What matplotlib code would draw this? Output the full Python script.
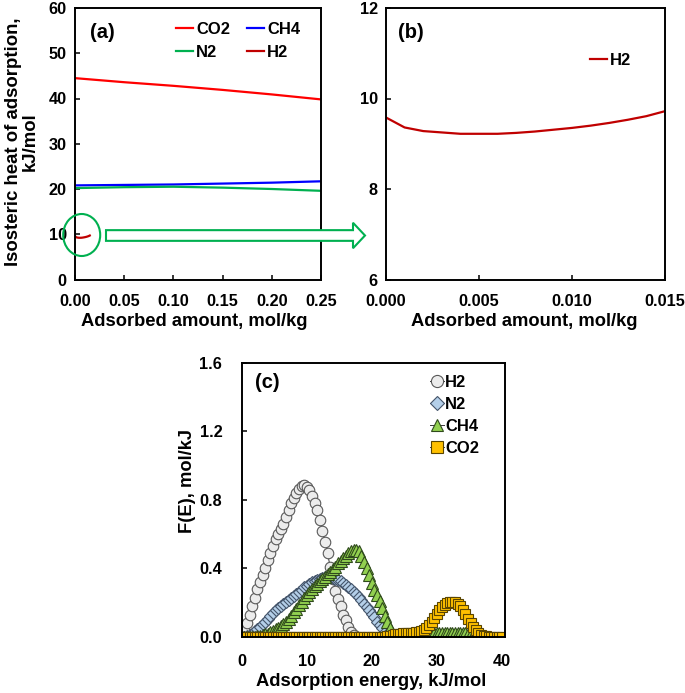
import numpy as np
import matplotlib
matplotlib.use("Agg")
import matplotlib.pyplot as plt
from matplotlib.patches import Ellipse, FancyArrow

plt.rcParams['font.family'] = ['Liberation Sans', 'DejaVu Sans']
plt.rcParams['font.weight'] = 'bold'
plt.rcParams['font.size'] = 11.7

# ---------- Panel (a): isosteric heat vs loading ----------
q_a = [0.0, 0.05, 0.10, 0.15, 0.20, 0.25]
co2_a = [44.5, 43.6, 42.8, 41.9, 40.9, 39.8]
ch4_a = [20.8, 20.9, 21.0, 21.2, 21.4, 21.7]
n2_a = [20.2, 20.4, 20.5, 20.3, 20.0, 19.6]

# ---------- Panel (b): H2 isosteric heat ----------
q_h2 = [0.000, 0.001, 0.002, 0.003, 0.004, 0.005, 0.006, 0.007, 0.008,
        0.009, 0.010, 0.011, 0.012, 0.013, 0.014, 0.015]
h2_q = [9.58, 9.36, 9.28, 9.25, 9.22, 9.22, 9.22, 9.24, 9.27,
        9.31, 9.35, 9.40, 9.46, 9.53, 9.61, 9.72]

# ---------- Panel (c): adsorption energy distributions ----------
energy = [0.0, 0.4, 0.8, 1.2, 1.6, 2.0, 2.4, 2.8, 3.2, 3.6,
          4.0, 4.4, 4.8, 5.2, 5.6, 6.0, 6.4, 6.8, 7.2, 7.6,
          8.0, 8.4, 8.8, 9.2, 9.6, 10.0, 10.4, 10.8, 11.2, 11.6,
          12.0, 12.4, 12.8, 13.2, 13.6, 14.0, 14.4, 14.8, 15.2, 15.6,
          16.0, 16.4, 16.8, 17.2, 17.6, 18.0, 18.4, 18.8, 19.2, 19.6,
          20.0, 20.4, 20.8, 21.2, 21.6, 22.0, 22.4, 22.8, 23.2, 23.6,
          24.0, 24.4, 24.8, 25.2, 25.6, 26.0, 26.4, 26.8, 27.2, 27.6,
          28.0, 28.4, 28.8, 29.2, 29.6, 30.0, 30.4, 30.8, 31.2, 31.6,
          32.0, 32.4, 32.8, 33.2, 33.6, 34.0, 34.4, 34.8, 35.2, 35.6,
          36.0, 36.4, 36.8, 37.2, 37.6, 38.0, 38.4, 38.8, 39.2, 39.6,
          40.0]

fe_h2 = [0.01, 0.04, 0.08, 0.13, 0.18, 0.23, 0.28, 0.32, 0.36, 0.40,
         0.45, 0.49, 0.53, 0.57, 0.60, 0.63, 0.66, 0.70, 0.74, 0.78,
         0.81, 0.84, 0.865, 0.88, 0.885, 0.875, 0.855, 0.82, 0.78, 0.74,
         0.68, 0.62, 0.555, 0.49, 0.41, 0.34, 0.27, 0.22, 0.18, 0.13,
         0.10, 0.06, 0.03, 0.01, 0.0]

fe_n2 = [0.0, 0.0, 0.005, 0.01, 0.02, 0.035, 0.045, 0.06, 0.075, 0.09,
         0.105, 0.12, 0.14, 0.155, 0.17, 0.18, 0.19, 0.205, 0.215, 0.23,
         0.24, 0.25, 0.265, 0.275, 0.29, 0.30, 0.31, 0.32, 0.325, 0.335,
         0.34, 0.345, 0.35, 0.35, 0.35, 0.345, 0.34, 0.335, 0.325, 0.315,
         0.305, 0.29, 0.28, 0.265, 0.25, 0.235, 0.215, 0.195, 0.175, 0.155,
         0.135, 0.115, 0.09, 0.07, 0.05, 0.03, 0.015, 0.005, 0.0]

fe_ch4 = [0.0, 0.0, 0.0, 0.0, 0.0, 0.0, 0.003, 0.006, 0.01, 0.015,
          0.02, 0.028, 0.036, 0.045, 0.055, 0.065, 0.078, 0.09, 0.105, 0.125,
          0.145, 0.165, 0.185, 0.205, 0.225, 0.245, 0.265, 0.28, 0.295, 0.31,
          0.325, 0.34, 0.35, 0.365, 0.38, 0.395, 0.41, 0.43, 0.445, 0.46,
          0.475, 0.49, 0.50, 0.51, 0.51, 0.50, 0.475, 0.44, 0.40, 0.36,
          0.315, 0.275, 0.245, 0.21, 0.17, 0.125, 0.085, 0.05, 0.02, 0.005,
          0.0, 0.002, 0.004, 0.006, 0.008, 0.01, 0.012, 0.014, 0.016, 0.018,
          0.02, 0.022, 0.024, 0.025, 0.025, 0.025, 0.025, 0.025, 0.025, 0.025,
          0.025, 0.025, 0.025, 0.025, 0.025, 0.024, 0.022, 0.02, 0.016, 0.012,
          0.008, 0.004, 0.0]

fe_co2 = [0.0, 0.0, 0.0, 0.0, 0.0, 0.0, 0.0, 0.0, 0.0, 0.0,
          0.0, 0.0, 0.0, 0.0, 0.0, 0.0, 0.0, 0.0, 0.0, 0.0,
          0.0, 0.0, 0.0, 0.0, 0.0, 0.0, 0.0, 0.0, 0.0, 0.0,
          0.0, 0.0, 0.0, 0.0, 0.0, 0.0, 0.0, 0.0, 0.0, 0.0,
          0.0, 0.0, 0.0, 0.0, 0.0, 0.0, 0.0, 0.0, 0.0, 0.0,
          0.0, 0.0, 0.0, 0.0, 0.0, 0.0, 0.004, 0.008, 0.012, 0.015,
          0.018, 0.02, 0.021, 0.022, 0.023, 0.024, 0.025, 0.027, 0.03, 0.035,
          0.043, 0.055, 0.07, 0.09, 0.112, 0.135, 0.155, 0.175, 0.188, 0.197,
          0.203, 0.205, 0.203, 0.195, 0.18, 0.16, 0.135, 0.107, 0.08, 0.057,
          0.04, 0.025, 0.014, 0.008, 0.004, 0.002, 0.001, 0.0, 0.0, 0.0,
          0.0]

W, H = 685, 693
fig = plt.figure(figsize=(W / 100, H / 100), dpi=100)

def fbox(l, t, r, b):
    return [l / W, 1 - b / H, (r - l) / W, (b - t) / H]

def style(ax, xpad, ypad):
    ax.tick_params(direction='in', length=3.5, width=1.1, labelsize=11.7)
    ax.tick_params(axis='x', pad=xpad)
    ax.tick_params(axis='y', pad=ypad)
    for s in ax.spines.values():
        s.set_linewidth(1.4)
    for lab in ax.get_xticklabels() + ax.get_yticklabels():
        lab.set_fontweight('bold')

RED = '#ff0000'
DRED = '#c00000'
BLUE = '#0000ff'
GREEN = '#00b050'
LAB = 13.2
LEG = {'weight': 'bold', 'size': 11.9}

# Panel (a)
ax1 = fig.add_axes(fbox(75, 8, 321, 279.5))
ax1.plot(q_a, co2_a, color=RED, lw=1.6, label='CO2')
ax1.plot(q_a, ch4_a, color=BLUE, lw=1.6, label='CH4')
ax1.plot(q_a, n2_a, color=GREEN, lw=1.6, label='N2')
ax1.plot(q_h2, h2_q, color=DRED, lw=1.6, label='H2')
ax1.set_xlim(0, 0.25)
ax1.set_ylim(0, 60)
ax1.set_xticks([0, 0.05, 0.10, 0.15, 0.20, 0.25])
ax1.set_xticklabels(['0.00', '0.05', '0.10', '0.15', '0.20', '0.25'])
ax1.set_yticks([0, 10, 20, 30, 40, 50, 60])
ax1.set_xlabel('Adsorbed amount, mol/kg', fontweight='bold', fontsize=LAB)
ax1.xaxis.set_label_coords(0.484, -0.123)
ax1.set_ylabel('Isosteric heat of adsorption,\nkJ/mol', fontweight='bold',
               fontsize=13.4, linespacing=1.0)
ax1.yaxis.set_label_coords(-0.146, 0.506)
ax1.text(0.06, 0.91, '(a)', transform=ax1.transAxes, fontweight='bold',
         fontsize=14.5, va='center')
h, l = ax1.get_legend_handles_labels()
ax1.legend([h[0], h[2], h[1], h[3]], [l[0], l[2], l[1], l[3]], ncol=2,
           loc='upper left', bbox_to_anchor=(0.412, 0.95), frameon=False,
           borderpad=0, borderaxespad=0,
           handlelength=1.03, handletextpad=0.18, columnspacing=1.03,
           labelspacing=0.5, prop=LEG)
style(ax1, 10.5, 6)

# Panel (b)
ax2 = fig.add_axes(fbox(386, 8, 665, 279.5))
ax2.plot(q_h2, h2_q, color=DRED, lw=1.6, label='H2')
ax2.set_xlim(0, 0.015)
ax2.set_ylim(6, 12)
ax2.set_xticks([0, 0.005, 0.010, 0.015])
ax2.set_xticklabels(['0.000', '0.005', '0.010', '0.015'])
ax2.set_yticks([6, 8, 10, 12])
ax2.set_xlabel('Adsorbed amount, mol/kg', fontweight='bold', fontsize=LAB)
ax2.xaxis.set_label_coords(0.496, -0.123)
ax2.text(0.044, 0.91, '(b)', transform=ax2.transAxes, fontweight='bold',
         fontsize=14.5, va='center')
ax2.legend(loc='upper left', bbox_to_anchor=(0.731, 0.836), frameon=False,
           borderpad=0, borderaxespad=0,
           handlelength=1.03, handletextpad=0.18, prop=LEG)
style(ax2, 10.5, 6)

# Panel (c)
ax3 = fig.add_axes(fbox(241.7, 362.7, 505, 637))
LC = '#3a3a3a'
ax3.plot(energy[:len(fe_h2)], fe_h2, color=LC, lw=0.7, marker='o', ms=7.6,
         mfc='#ececec', mec='#595959', mew=0.8, label='H2')
ax3.plot(energy[:len(fe_n2)], fe_n2, color=LC, lw=0.7, marker='D', ms=6.2,
         mfc='#b4cfe9', mec='#44546a', mew=0.8, label='N2')
ax3.plot(energy[:len(fe_ch4)], fe_ch4, color=LC, lw=0.7, marker='^', ms=8,
         mfc='#92d050', mec='#2f4a1c', mew=0.8, label='CH4')
ax3.plot(energy[:len(fe_co2)], fe_co2, color=LC, lw=0.7, marker='s', ms=7.2,
         mfc='#ffc000', mec='#5a4500', mew=0.8, label='CO2')
ax3.set_xlim(0, 40.5)
ax3.set_ylim(0, 1.6)
ax3.set_xticks([0, 10, 20, 30, 40])
ax3.set_yticks([0, 0.4, 0.8, 1.2, 1.6])
ax3.set_yticklabels(['0.0', '0.4', '0.8', '1.2', '1.6'])
ax3.set_xlabel('Adsorption energy, kJ/mol', fontweight='bold', fontsize=LAB)
ax3.xaxis.set_label_coords(0.493, -0.131)
ax3.set_ylabel('F(E), mol/kJ', fontweight='bold', fontsize=LAB)
ax3.yaxis.set_label_coords(-0.172, 0.569)
ax3.text(0.05, 0.926, '(c)', transform=ax3.transAxes, fontweight='bold',
         fontsize=14.5, va='center')
ax3.legend(loc='upper left', bbox_to_anchor=(0.715, 0.955), frameon=False,
           borderpad=0, borderaxespad=0, markerscale=1.15,
           handlelength=0.85, handletextpad=0.08, labelspacing=0.42,
           prop=LEG)
style(ax3, 12.5, 14)

# Green annotation: circle and hollow arrow
fig.add_artist(Ellipse((81.7 / W, 1 - 235 / H), 37 / W, 42 / H,
                       transform=fig.transFigure, fill=False,
                       edgecolor=GREEN, lw=1.5, zorder=10))
fig.add_artist(FancyArrow(106 / W, 1 - 235.5 / H, (365 - 106) / W, 0,
                          width=10.7 / H, head_width=25.5 / H,
                          head_length=12 / W, length_includes_head=True,
                          transform=fig.transFigure, facecolor='white',
                          edgecolor=GREEN, lw=1.5, zorder=10))

fig.savefig('out.png', dpi=100)
